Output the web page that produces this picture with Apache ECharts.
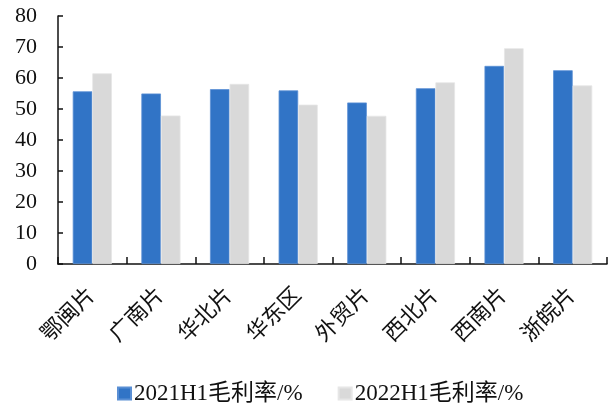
<!DOCTYPE html>
<html>
<head>
<meta charset="utf-8">
<script src="https://cdn.jsdelivr.net/npm/echarts@6/dist/echarts.min.js"></script>
<style>
  html, body { margin: 0; padding: 0; background: #fff; }
  #chart { width: 615px; height: 403px; }
</style>
</head>
<body>
<div id="chart"></div>
<script>
// Regions and gross margin (%) for the first half of each year
const regions = ['鄂闽片', '广南片', '华北片', '华东区', '外贸片', '西北片', '西南片', '浙皖片'];
const margin2021H1 = [55.7, 55.0, 56.4, 56.0, 52.1, 56.7, 63.9, 62.5];
const margin2022H1 = [61.5, 47.9, 58.1, 51.4, 47.8, 58.6, 69.6, 57.6];
const seriesNames = ['2021H1毛利率/%', '2022H1毛利率/%'];
const yTicks = { min: 0, max: 80, step: 10 };

const FONT = "'Times New Roman', 'Liberation Serif', 'Noto Sans CJK SC', serif";

const chart = echarts.init(document.getElementById('chart'), null, { renderer: 'canvas' });

chart.setOption({
  animation: false,
  backgroundColor: '#ffffff',
  grid: { left: 58, right: 8, top: 16, bottom: 139, containLabel: false },
  legend: {
    left: 112,
    top: 377,
    itemWidth: 13,
    itemHeight: 12,
    itemGap: 35,
    icon: 'rect',
    textStyle: { fontFamily: FONT, fontSize: 23, color: '#111', padding: [0, 0, 0, -2] },
    data: seriesNames
  },
  xAxis: {
    type: 'category',
    data: regions,
    axisLine: { lineStyle: { color: '#111', width: 1.5 } },
    axisTick: { show: true, inside: true, length: 7, lineStyle: { color: '#111', width: 1.5 } },
    axisLabel: {
      rotate: 45,
      margin: 28,
      fontFamily: FONT,
      fontSize: 22,
      color: '#111',
      interval: 0
    }
  },
  yAxis: {
    type: 'value',
    min: yTicks.min,
    max: yTicks.max,
    interval: yTicks.step,
    axisLine: { show: true, lineStyle: { color: '#111', width: 1.5 } },
    axisTick: { show: true, inside: true, length: 5, lineStyle: { color: '#111', width: 1.5 } },
    splitLine: { show: false },
    axisLabel: { fontFamily: FONT, fontSize: 22, color: '#111', margin: 21 }
  },
  series: [
    {
      name: seriesNames[0],
      type: 'bar',
      data: margin2021H1,
      barGap: '0%',
      barCategoryGap: '43%',
      itemStyle: { color: '#3174C6', borderColor: '#5a8fd4', borderWidth: 0.8 }
    },
    {
      name: seriesNames[1],
      type: 'bar',
      data: margin2022H1,
      itemStyle: { color: '#D9D9D9', borderColor: '#e6e6e6', borderWidth: 0.8 }
    }
  ]
});
</script>
</body>
</html>
